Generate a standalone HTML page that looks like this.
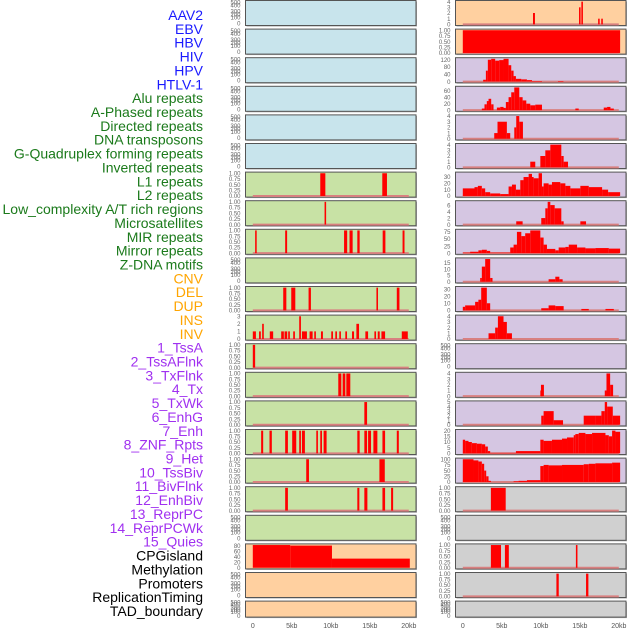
<!DOCTYPE html>
<html><head><meta charset="utf-8"><style>
html,body{margin:0;padding:0;background:#fff;}
svg{display:block;font-family:"Liberation Sans",sans-serif;}
</style></head><body>
<svg id="chart" width="630" height="630" viewBox="0 0 630 630" xmlns="http://www.w3.org/2000/svg"></svg>
<script>
// ---------- labels ----------
const trackLabels = ["AAV2","EBV","HBV","HIV","HPV","HTLV-1","Alu repeats","A-Phased repeats","Directed repeats","DNA transposons","G-Quadruplex forming repeats","Inverted repeats","L1 repeats","L2 repeats","Low_complexity A/T rich regions","Microsatellites","MIR repeats","Mirror repeats","Z-DNA motifs","CNV","DEL","DUP","INS","INV","1_TssA","2_TssAFlnk","3_TxFlnk","4_Tx","5_TxWk","6_EnhG","7_Enh","8_ZNF_Rpts","9_Het","10_TssBiv","11_BivFlnk","12_EnhBiv","13_ReprPC","14_ReprPCWk","15_Quies","CPGisland","Methylation","Promoters","ReplicationTiming","TAD_boundary"];
const labelGroupSizes = [6,13,5,15,5]; // blue, green, orange, purple, black
const labelColors = ["#1a1aff","#1b7a1b","#ffa500","#a030f0","#000000"];
const xTickValues = [0,5,10,15,20];
const xTickLabels = ["0","5kb","10kb","15kb","20kb"];

// ---------- left column data [startKb,endKb,value] ----------
const leftL1 = [[8.65,9.3,1],[16.6,17.2,1]];
const leftL2 = [[9.2,9.4,1]];
const leftMicro = [[0.3,0.5,1],[4.15,4.4,1],[11.7,12.1,1],[12.4,12.8,1],[13.4,13.7,1],[16.65,17.0,1],[19.2,19.45,1]];
const leftCnv = [[3.9,4.3,1],[4.93,5.45,1],[7.15,7.45,1],[15.85,16.05,1],[18.46,18.8,1]];
const leftDup = [[0,0.4,1],[0.8,1.03,1],[1.2,1.41,2],[2.18,2.61,1],[3.64,3.98,1],[4.07,4.41,1],[4.54,4.75,1],[5.18,5.4,1],[5.95,6.17,3],[6.3,6.94,1],[7.28,7.67,1],[7.88,8.09,1],[8.74,8.99,1],[10.06,10.28,1],[10.58,10.79,1],[11.09,11.3,1],[11.86,12.08,1],[12.72,12.98,1],[13.28,13.62,2],[14.43,14.78,1],[15.59,15.8,1],[16.02,16.27,1],[16.49,16.96,1],[19.1,19.87,1]];
const leftInv = [[0,0.3,1]];
const leftTssAFlnk = [[10.96,11.35,1],[11.52,11.86,1],[11.99,12.5,1]];
const leftTx = [[14.3,14.65,1]];
const leftTxWk = [[1.07,1.33,1],[2.14,2.44,1],[4.15,4.5,1],[5.05,5.57,1],[5.95,6.17,1],[6.3,6.68,1],[8.14,8.35,1],[8.65,8.87,1],[9.08,9.46,1],[13.4,13.7,1],[14.3,14.65,1],[14.78,15.16,1],[15.46,15.97,1],[16.62,16.96,1],[18.46,18.72,1]];
const leftEnhG = [[6.85,7.2,1],[16.23,16.92,1]];
const leftEnh = [[4.15,4.5,1],[13.4,13.66,1],[14.3,14.69,1],[16.62,16.96,1],[17.73,17.99,1]];
const leftCpg = [[0,4.8,82],[4.8,10.15,80],[10.15,20.13,33]];

// ---------- right column data ----------
const rightAav2 = [[9.0,9.25,2],[14.9,15.1,3],[15.2,15.4,4],[17.35,17.55,1],[17.75,17.95,1]];
const rightEbv = [[0,20.17,1]];
const rightHiv = [[2.61,2.96,10],[2.96,3.21,60],[3.21,3.64,120],[3.64,4.15,125],[4.15,4.67,115],[4.67,5.22,118],[5.22,5.87,125],[5.87,6.21,90],[6.21,6.51,60],[6.51,6.81,30],[6.81,7.5,15],[7.5,8.22,12],[8.22,8.87,8],[8.87,10.15,3],[12.2,12.9,3]];
const rightHpv = [[2.44,2.78,5],[2.78,3.08,18],[3.08,3.3,28],[3.3,3.64,35],[3.64,3.94,18],[4.37,4.8,8],[4.8,5.22,10],[5.22,5.52,7],[5.52,5.87,25],[5.87,6.21,40],[6.21,6.6,55],[6.6,7.24,70],[7.24,7.67,40],[7.67,8.14,30],[8.14,8.65,20],[8.65,9.29,15],[9.29,10.15,17],[14.43,14.86,5],[18.07,18.5,8],[18.5,18.93,10],[18.93,19.36,5]];
const rightAlu = [[4.03,4.45,1],[4.45,5.65,3],[5.65,6.08,1],[6.6,6.85,2],[6.85,7.24,4],[7.24,7.71,3]];
const rightAphased = [[8.65,9.29,1],[9.94,10.58,2],[10.58,11.22,3],[11.22,12.63,4],[12.63,12.93,2],[12.93,13.49,1]];
const rightDirected = [[0,1.5,12],[1.5,1.93,14],[1.93,2.44,16],[2.44,2.87,12],[2.87,3.51,6],[3.51,4.8,4],[4.8,5.87,3],[5.87,6.3,15],[6.3,6.81,18],[6.81,7.37,10],[7.37,7.79,25],[7.79,8.44,30],[8.44,8.87,35],[8.87,9.08,30],[9.08,9.72,28],[9.72,10.15,36],[10.15,10.36,15],[10.36,11.0,20],[11.0,11.43,18],[11.43,12.5,22],[12.5,13.15,20],[13.15,13.79,16],[13.79,15.07,12],[15.07,16.15,16],[16.15,17.86,14],[17.86,18.63,10],[18.63,20.17,6]];
const rightDna = [[6.85,7.67,1],[10.06,10.58,2],[10.58,10.88,5],[10.88,11.22,7],[11.22,11.78,6],[11.78,12.63,5],[12.63,12.93,1],[15.07,15.8,1]];
const rightGquad = [[0,0.94,2],[0.94,2.0,5],[2.0,2.44,10],[2.44,3.08,12],[3.08,3.51,8],[3.51,6.08,2],[6.08,6.51,20],[6.51,6.94,30],[6.94,7.5,75],[7.5,8.0,60],[8.0,8.65,70],[8.65,9.94,80],[9.94,10.36,55],[10.36,10.79,30],[10.79,11.86,15],[11.86,12.29,10],[12.29,13.15,20],[13.15,13.58,22],[13.58,14.65,30],[14.65,15.72,20],[15.72,17.0,17],[17.0,18.72,18],[18.72,20.17,16]];
const rightInverted = [[2.23,2.44,3],[2.44,2.87,12],[2.87,3.51,18],[3.51,3.81,3],[11.0,11.86,2],[11.86,12.38,4],[12.38,12.8,2]];
const rightL1 = [[0,0.3,5],[0.3,1.58,7],[1.58,2.0,12],[2.0,2.36,15],[2.36,3.08,32],[3.08,3.51,10],[10.06,11.0,3],[11.0,11.86,7],[11.86,12.93,6],[15.2,16.15,2],[18.29,19.36,2]];
const rightL2 = [[3.3,4.15,1],[4.15,4.5,2],[4.5,5.22,4],[5.22,5.65,3],[5.65,6.3,1]];
const rightLowComplex = [[9.94,10.24,1],[10.02,10.4,2],[18.2,18.42,1],[18.42,18.89,4],[18.89,19.27,2]];
const rightMicro = [[10.06,10.36,2],[10.36,11.65,3],[11.65,12.85,1],[15.5,17.0,2],[17.0,17.77,2],[17.77,18.2,3],[18.2,18.5,5],[18.5,19.23,4],[19.23,20.17,2]];
const rightMir = [[0,0.3,12],[0.3,0.73,11],[0.73,1.16,10],[1.16,1.8,9],[1.8,2.44,8.5],[2.44,2.87,8],[2.87,3.21,6],[3.21,3.51,2],[3.51,6.81,0.5],[6.81,9.94,2],[9.94,10.36,12],[10.36,11.43,11],[11.43,12.72,12],[12.72,13.36,13],[13.36,14.22,14],[14.22,14.43,16],[14.43,14.86,17],[14.86,15.72,18],[15.72,16.57,17],[16.57,18.29,18],[18.29,18.72,16],[18.72,19.14,15],[19.14,19.57,20],[19.57,20.17,19]];
const rightMirror = [[0,1.37,100],[1.37,2.0,95],[2.0,2.44,90],[2.44,2.74,80],[2.74,3.0,50],[3.0,3.3,25],[3.3,3.6,5],[6.51,7.15,3],[7.15,8.22,5],[8.22,9.94,8],[9.94,10.36,70],[10.36,11.0,75],[11.0,12.72,73],[12.72,14.0,75],[14.0,15.5,75],[15.5,16.15,78],[16.15,17.0,80],[17.0,19.14,82],[19.14,20.17,85]];
const rightZdna = [[3.6,5.5,1]];
const rightCnv = [[3.6,4.9,1],[5.4,5.9,1],[14.5,14.7,1]];
const rightDel = [[12.0,12.3,1],[15.8,16.1,1]];

// ---------- panel specs ----------
const panelSpecs = [
 ["L",0,"#c8e4ec",null,1,null],["L",1,"#c8e4ec",null,1,null],["L",2,"#c8e4ec",null,1,null],["L",3,"#c8e4ec",null,1,null],["L",4,"#c8e4ec",null,1,null],["L",5,"#c8e4ec",null,1,null],
 ["L",6,"#c8e2a5",leftL1,1,"p"],["L",7,"#c8e2a5",leftL2,1,"p"],["L",8,"#c8e2a5",leftMicro,1,"p"],["L",9,"#c8e2a5",null,1,null],["L",10,"#c8e2a5",leftCnv,1,"p"],["L",11,"#c8e2a5",leftDup,3,[0,1,2,3]],["L",12,"#c8e2a5",leftInv,1,"p"],["L",13,"#c8e2a5",leftTssAFlnk,1,"p"],["L",14,"#c8e2a5",leftTx,1,"p"],["L",15,"#c8e2a5",leftTxWk,1,"p"],["L",16,"#c8e2a5",leftEnhG,1,"p"],["L",17,"#c8e2a5",leftEnh,1,"p"],["L",18,"#c8e2a5",null,1,null],
 ["L",19,"#ffd0a0",leftCpg,82,[0,20,40,60,80]],["L",20,"#ffd0a0",null,1,null],["L",21,"#ffd0a0",null,1,null],
 ["R",0,"#ffd0a0",rightAav2,4,[0,1,2,3,4]],["R",1,"#ffd0a0",rightEbv,1,"p"],
 ["R",2,"#d5c6e2",rightHiv,125,[0,40,80,120]],["R",3,"#d5c6e2",rightHpv,70,[0,20,40,60]],["R",4,"#d5c6e2",rightAlu,4,[0,1,2,3,4]],["R",5,"#d5c6e2",rightAphased,4,[0,1,2,3,4]],["R",6,"#d5c6e2",rightDirected,36,[0,10,20,30]],["R",7,"#d5c6e2",rightDna,7,[0,2,4,6]],["R",8,"#d5c6e2",rightGquad,80,[0,25,50,75]],["R",9,"#d5c6e2",rightInverted,18,[0,5,10,15]],["R",10,"#d5c6e2",rightL1,32,[0,10,20,30]],["R",11,"#d5c6e2",rightL2,4,[0,1,2,3,4]],["R",12,"#d5c6e2",null,1,null],["R",13,"#d5c6e2",rightLowComplex,4,[0,1,2,3,4]],["R",14,"#d5c6e2",rightMicro,5,[0,1,2,3,4,5]],["R",15,"#d5c6e2",rightMir,20,[0,5,10,15,20]],["R",16,"#d5c6e2",rightMirror,100,[0,25,50,75,100]],
 ["R",17,"#d0d0d0",rightZdna,1,"p"],["R",18,"#d0d0d0",null,1,null],["R",19,"#d0d0d0",rightCnv,1,"p"],["R",20,"#d0d0d0",rightDel,1,"p"],["R",21,"#d0d0d0",null,1,null]
];
const propTicks = [0,0.25,0.5,0.75,1];
const propTickLabels = ["0.00","0.25","0.50","0.75","1.00"];
const emptyTickLabels = ["0","100","200","300","400","500"];

const NS = "http://www.w3.org/2000/svg";
const svg = document.getElementById("chart");
function mk(tag, attrs, parent){
  const e = document.createElementNS(NS, tag);
  for (const k in attrs) e.setAttribute(k, attrs[k]);
  (parent||svg).appendChild(e);
  return e;
}
const col = {L:{x0:245.5,x1:416,k0:252.8},R:{x0:455.5,x1:626,k0:462.8}};
const kbPx = 7.8;
const rowPitch = 28.6, rowH = 25;
function xScale(c, kb){ return col[c].k0 + kb*kbPx; }

// labels
let li = 0;
labelGroupSizes.forEach((n, g) => {
  for (let j = 0; j < n; j++, li++) {
    const t = mk("text", {x:203, y:20 + li*13.86, "text-anchor":"end", "font-size":"14", fill:labelColors[g]});
    
    
    t.textContent = trackLabels[li];
  }
});

panelSpecs.forEach(spec => {
  const [c, row, bg, data, maxV, ticks] = spec;
  const top = row*rowPitch + 0.5;
  const h = row === 21 ? 16 : rowH;
  const g = mk("g", {});
  
  
  const X0 = col[c].x0, X1 = col[c].x1;
  mk("rect", {x:X0+1, y:top+1, width:X1-X0, height:h, fill:"#aaa"}, g);
  const r = mk("rect", {x:X0, y:top, width:X1-X0, height:h, fill:bg, stroke:"#555", "stroke-width":"1"}, g);
  
  
  const tickX = X0 - 5;
  if (!data) {
    const fr = [0.92, 0.68, 0.56, 0.44, 0.2, 0.08];
    emptyTickLabels.forEach((lab, i) => {
      const t = mk("text", {x:tickX, y:top + h*fr[i] + 2, "text-anchor":"end", "font-size":"6", fill:"#666"}, g);
      
      
      t.textContent = lab;
    });
    return;
  }
  const lo = -0.05*maxV, hi = 1.05*maxV;
  const yS = v => top + h - (v - lo)/(hi - lo)*h;
  const tv = ticks === "p" ? propTicks : ticks;
  tv.forEach((v, i) => {
    const t = mk("text", {x:tickX, y:yS(v) + 2.2, "text-anchor":"end", "font-size":"6", fill:"#666"}, g);
    
    
    t.textContent = ticks === "p" ? propTickLabels[i] : String(v);
  });
  if (!(c === "L" && row === 19)) {
    const bl = mk("line", {x1:xScale(c,0), x2:xScale(c,20), y1:yS(0), y2:yS(0), stroke:"#d88080", "stroke-width":"2"}, g);
    
    
  }
  data.forEach(d => {
    const x = xScale(c, d[0]), w = Math.max(1, xScale(c, d[1]) - x);
    const b = mk("rect", {x:x, y:yS(d[2]), width:w, height:yS(0) - yS(d[2]), fill:"#ff0000"}, g);
    
    
  });
});

// x axes
["L","R"].forEach(c => {
  xTickValues.forEach((v, i) => {
    const t = mk("text", {x:xScale(c, v), y:628, "text-anchor":"middle", "font-size":"7", fill:"#555"});
    
    
    t.textContent = xTickLabels[i];
  });
});
</script>
</body></html>
